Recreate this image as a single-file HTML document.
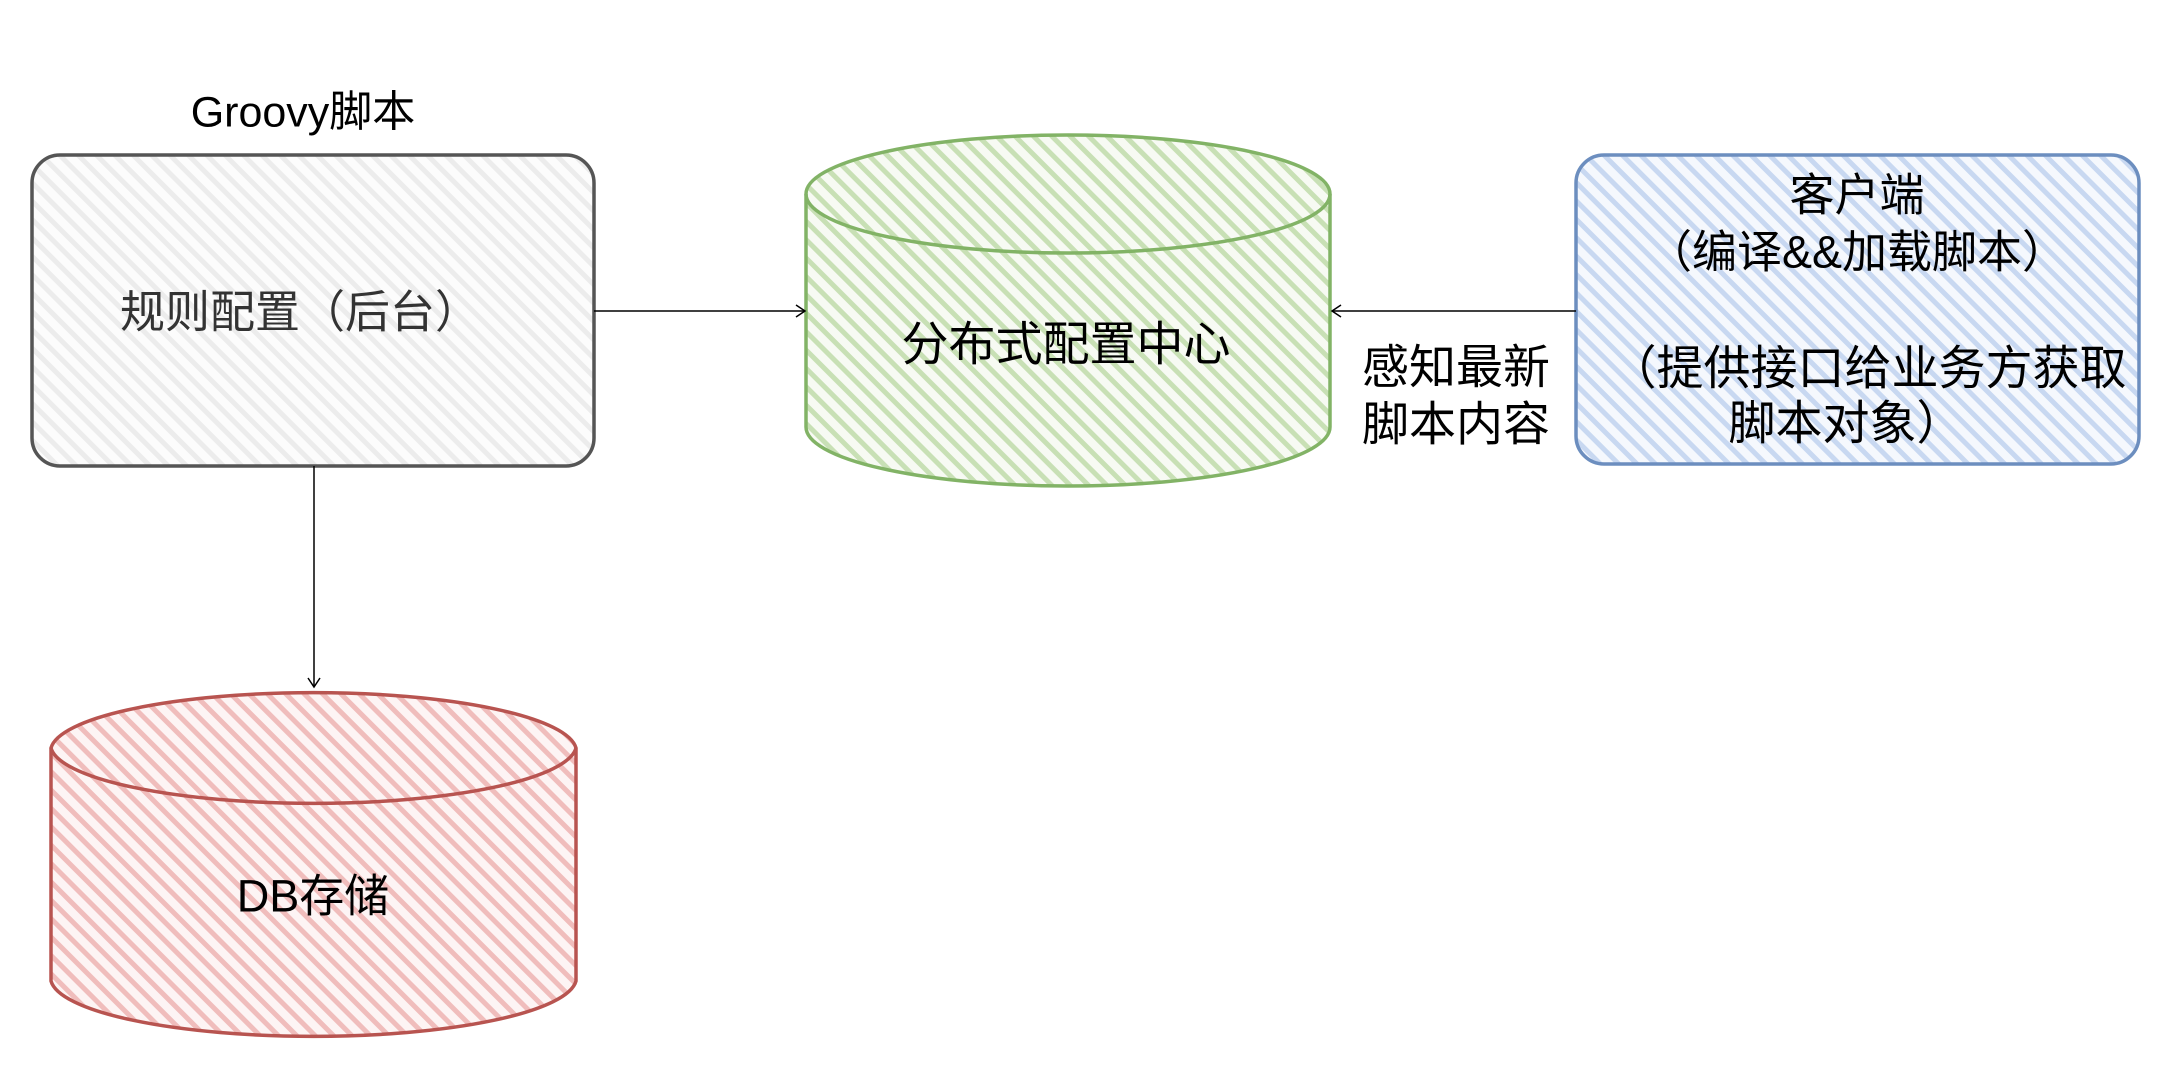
<!DOCTYPE html>
<html><head><meta charset="utf-8"><style>
html,body{margin:0;padding:0;background:#fff;}
body{width:2168px;height:1080px;overflow:hidden;position:relative;font-family:"Liberation Sans","Noto Sans CJK SC",sans-serif;}
.t{position:absolute;white-space:nowrap;color:#000;transform:translate(-50%,-50%);line-height:1;}
</style></head><body>
<svg width="2168" height="1080" style="position:absolute;left:0;top:0">
<defs>
<pattern id="pg" width="13" height="13" patternUnits="userSpaceOnUse" patternTransform="rotate(45)"><rect width="13" height="13" fill="#fcfcfc"/><rect width="13" height="5" fill="#ececec"/></pattern>
<pattern id="pgr" width="13" height="13" patternUnits="userSpaceOnUse" patternTransform="rotate(45)"><rect width="13" height="13" fill="#f7faf3"/><rect width="13" height="5" fill="#c8e0b5"/></pattern>
<pattern id="pb" width="13" height="13" patternUnits="userSpaceOnUse" patternTransform="rotate(45)"><rect width="13" height="13" fill="#f5f8fd"/><rect width="13" height="5" fill="#c8d8f1"/></pattern>
<pattern id="pr" width="13" height="13" patternUnits="userSpaceOnUse" patternTransform="rotate(45)"><rect width="13" height="13" fill="#fdf4f4"/><rect width="13" height="5" fill="#f0bdbc"/></pattern>
</defs>
<rect x="32" y="155" width="562" height="311" rx="28" fill="url(#pg)" stroke="#555" stroke-width="3.5"/>
<rect x="1576" y="155" width="563" height="309" rx="28" fill="url(#pb)" stroke="#6c8ebf" stroke-width="3.5"/>
<path d="M806 194 A262 59 0 0 1 1330 194 V427 A262 59 0 0 1 806 427 Z" fill="url(#pgr)" stroke="#82b366" stroke-width="3.5"/>
<path d="M806 194 A262 59 0 0 0 1330 194" fill="none" stroke="#82b366" stroke-width="3.5"/>
<path d="M51 748 A263 59 0 0 1 576 748 V981 A263 59 0 0 1 51 981 Z" fill="url(#pr)" stroke="#b85450" stroke-width="3.5"/>
<path d="M51 748 A263 59 0 0 0 576 748" fill="none" stroke="#b85450" stroke-width="3.5"/>
<g stroke="#000" stroke-width="1.5" fill="none">
<path d="M594 311 H804"/><path d="M796 305 L805 311 L796 317"/>
<path d="M1576 311 H1332"/><path d="M1341 305 L1332 311 L1341 317"/>
<path d="M314 466 V686"/><path d="M308 678 L314 687 L320 678"/>
</g>
</svg>
<div class="t" style="left:303px;top:113px;font-size:43px">Groovy脚本</div>
<div class="t" style="left:300px;top:312px;font-size:45px;color:#333">规则配置（后台）</div>
<div class="t" style="left:1066px;top:344px;font-size:47px">分布式配置中心</div>
<div class="t" style="left:1456px;top:367px;font-size:47px">感知最新</div>
<div class="t" style="left:1456px;top:424px;font-size:47px">脚本内容</div>
<div class="t" style="left:1857px;top:195px;font-size:45px">客户端</div>
<div class="t" style="left:1857px;top:252px;font-size:45px">（编译&amp;&amp;加载脚本）</div>
<div class="t" style="left:1868px;top:368px;font-size:47px">（提供接口给业务方获取</div>
<div class="t" style="left:1846px;top:423px;font-size:47px">脚本对象）</div>
<div class="t" style="left:313px;top:896px;font-size:45px">DB存储</div>
</body></html>
